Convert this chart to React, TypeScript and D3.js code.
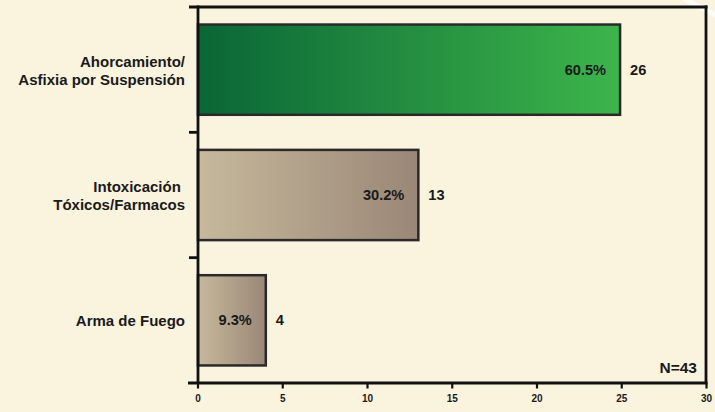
import React from "react";
import * as d3 from "d3";

const categories = ["Ahorcamiento/\nAsfixia por Suspensión", "Intoxicación \nTóxicos/Farmacos", "Arma de Fuego"];
const barLengths = [24.9, 13, 4];
const countLabels = ["26", "13", "4"];
const percentLabels = ["60.5%", "30.2%", "9.3%"];
const xTicks = [0, 5, 10, 15, 20, 25, 30];
const totalLabel = "N=43";

const W = 715;
const H = 412;
const FONT = "'Liberation Sans', Arial, Helvetica, sans-serif";

export default function App() {
  const x = d3.scaleLinear().domain([0, 30]).range([198, 706.5]);
  const y = d3.scaleBand<string>().domain(categories).range([7, 383]).paddingInner(0.28).paddingOuter(0.14);
  const step = y.step();
  const boundaries = d3.range(categories.length + 1).map((i) => 7 + i * step);

  return (
    <svg width={W} height={H} style={{ position: "absolute", left: 0, top: 0, display: "block" }} fontFamily={FONT}>
      <defs>
        <linearGradient id="gGreen" x1="0" x2="1" y1="0" y2="0">
          <stop offset="0%" stopColor="#0a6636" />
          <stop offset="100%" stopColor="#3db54b" />
        </linearGradient>
        <linearGradient id="gBrown" x1="0" x2="1" y1="0" y2="0">
          <stop offset="0%" stopColor="#c6b99c" />
          <stop offset="100%" stopColor="#9a8777" />
        </linearGradient>
      </defs>
      <rect x={0} y={0} width={W} height={H} fill="#faf3de" />
      <line x1={683} y1={-2} x2={717} y2={16} stroke="#ffffff" strokeWidth={5} opacity={0.8} />

      {categories.map((c, i) => {
        const y0 = y(c) as number;
        const bw = y.bandwidth();
        const xEnd = x(barLengths[i]);
        const cy = y0 + bw / 2;
        const lines = c.split("\n");
        return (
          <g key={c}>
            <rect x={x(0)} y={y0} width={xEnd - x(0)} height={bw} fill={i === 0 ? "url(#gGreen)" : "url(#gBrown)"} stroke="#2a2a2a" strokeWidth={2.5} />
            <text x={xEnd - 14} y={cy + 5} textAnchor="end" fontSize={14.6} fontWeight="bold" fill="#1a1a1a">{percentLabels[i]}</text>
            <text x={xEnd + 10} y={cy + 5} textAnchor="start" fontSize={14.6} fontWeight="bold" fill="#1a1a1a">{countLabels[i]}</text>
            {lines.map((ln, j) => (
              <text key={j} x={185} y={cy + 6 - (lines.length - 1) * 9 + j * 18} textAnchor="end" fontSize={15} fontWeight="bold" fill="#1a1a1a" style={{ whiteSpace: "pre" }}>{ln}</text>
            ))}
          </g>
        );
      })}

      <line x1={189} y1={7} x2={707.5} y2={7} stroke="#111" strokeWidth={2.8} />
      <line x1={706} y1={5.6} x2={706} y2={383} stroke="#111" strokeWidth={2.8} />
      <line x1={198} y1={5.6} x2={198} y2={384} stroke="#111" strokeWidth={2.8} />
      <line x1={188} y1={383} x2={707.5} y2={383} stroke="#111" strokeWidth={2.8} />
      {boundaries.slice(1, -1).map((b, i) => (
        <line key={i} x1={189} y1={b} x2={198} y2={b} stroke="#111" strokeWidth={2.8} />
      ))}
      {xTicks.map((t) => (
        <g key={t}>
          <line x1={x(t)} y1={383} x2={x(t)} y2={388.5} stroke="#111" strokeWidth={2.2} />
          <text x={x(t)} y={402} textAnchor="middle" fontSize={10} fontWeight="bold" fill="#1a1a1a">{t}</text>
        </g>
      ))}
      <text x={697} y={373} textAnchor="end" fontSize={15.5} fontWeight="bold" fill="#1a1a1a">{totalLabel}</text>
    </svg>
  );
}
